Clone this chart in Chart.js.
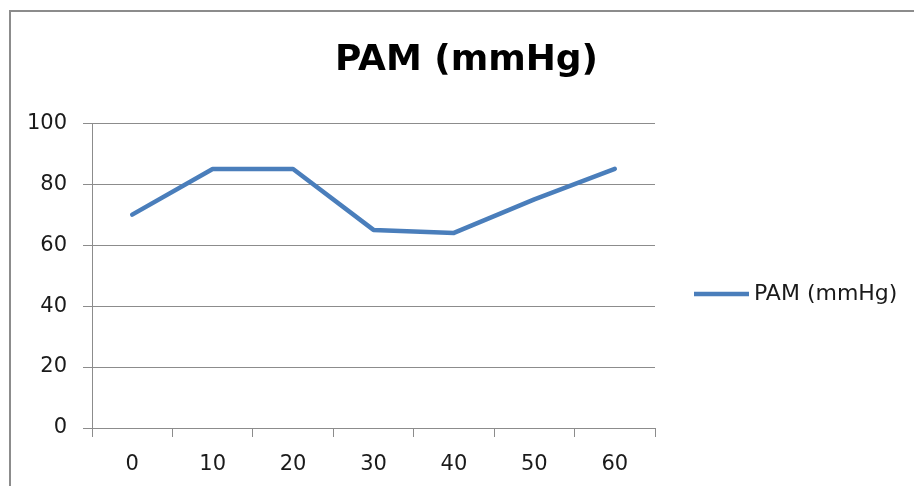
<!DOCTYPE html>
<html>
<head>
<meta charset="utf-8">
<script src="https://cdn.jsdelivr.net/npm/chart.js@4"></script>
<style>
  html, body { margin: 0; padding: 0; background: #fff; overflow: hidden; }
  #frame { position: absolute; left: 9px; top: 10px; width: 1000px; height: 1000px; border: 2px solid #8c8c8c; }
  #wrap { position: absolute; left: 0; top: 0; width: 914px; height: 486px; }
</style>
</head>
<body>
<div id="frame"></div>
<div id="wrap"><canvas id="chart"></canvas></div>
<script>
// ===== data =====
const minutes = ["0", "10", "20", "30", "40", "50", "60"];
const pamValues = [70, 85, 85, 65, 64, 75, 85];
const seriesName = "PAM (mmHg)";
const yTicks = [0, 20, 40, 60, 80, 100];

const GRID = "#8c8c8c";
const LINE = "#4a7ebb";
const FONT = "'DejaVu Sans', sans-serif";

// Excel-style legend to the right of the plot (built-in legend is capped at half width)
const sideLegend = {
  id: "sideLegend",
  afterDraw(chart) {
    const c = chart.ctx;
    const ds = chart.data.datasets[0];
    const x0 = chart.chartArea.right + 39;
    const y = 294;
    c.save();
    c.strokeStyle = ds.borderColor;
    c.lineWidth = ds.borderWidth;
    c.lineCap = "butt";
    c.beginPath();
    c.moveTo(x0, y);
    c.lineTo(x0 + 55, y);
    c.stroke();
    c.fillStyle = "#1a1a1a";
    c.font = "22px " + FONT;
    c.textBaseline = "middle";
    c.fillText(ds.label, x0 + 60, y);
    c.restore();
  }
};

const ctx = document.getElementById("chart").getContext("2d");
new Chart(ctx, {
  type: "line",
  data: {
    labels: minutes,
    datasets: [{
      label: seriesName,
      data: pamValues,
      borderColor: LINE,
      backgroundColor: LINE,
      borderWidth: 4.5,
      borderJoinStyle: "round",
      borderCapStyle: "round",
      pointRadius: 0,
      tension: 0,
      fill: false,
      yAxisID: "y"
    }]
  },
  options: {
    responsive: true,
    maintainAspectRatio: false,
    animation: false,
    layout: { padding: { left: 22, right: 3, top: 39, bottom: 0 } },
    plugins: {
      title: {
        display: true,
        text: seriesName,
        color: "#000",
        font: { family: FONT, size: 36, weight: "bold" },
        padding: { top: 0, bottom: 41 }
      },
      legend: { display: false },
      tooltip: { enabled: false }
    },
    scales: {
      x: {
        offset: true,
        grid: { offset: true, drawOnChartArea: false, drawTicks: true, tickLength: 9, color: GRID, lineWidth: 1 },
        border: { color: GRID, width: 1 },
        ticks: { color: "#1a1a1a", font: { family: FONT, size: 21 }, padding: 15, maxRotation: 0 },
        afterFit: (scale) => { scale.height = 58; }
      },
      y: {
        min: 0,
        max: 100,
        afterBuildTicks: (scale) => { scale.ticks = yTicks.map(v => ({ value: v })); },
        grid: { color: GRID, lineWidth: 1, tickLength: 9 },
        border: { color: GRID, width: 1 },
        ticks: { color: "#1a1a1a", font: { family: FONT, size: 21 }, padding: 16 },
        afterFit: (scale) => { scale.width = 70; }
      },
      legendSpace: {
        type: "linear",
        position: "right",
        min: 0,
        max: 1,
        grid: { display: false },
        border: { display: false },
        ticks: { display: false },
        afterFit: (scale) => { scale.width = 256; }
      }
    }
  },
  plugins: [sideLegend]
});
</script>
</body>
</html>
